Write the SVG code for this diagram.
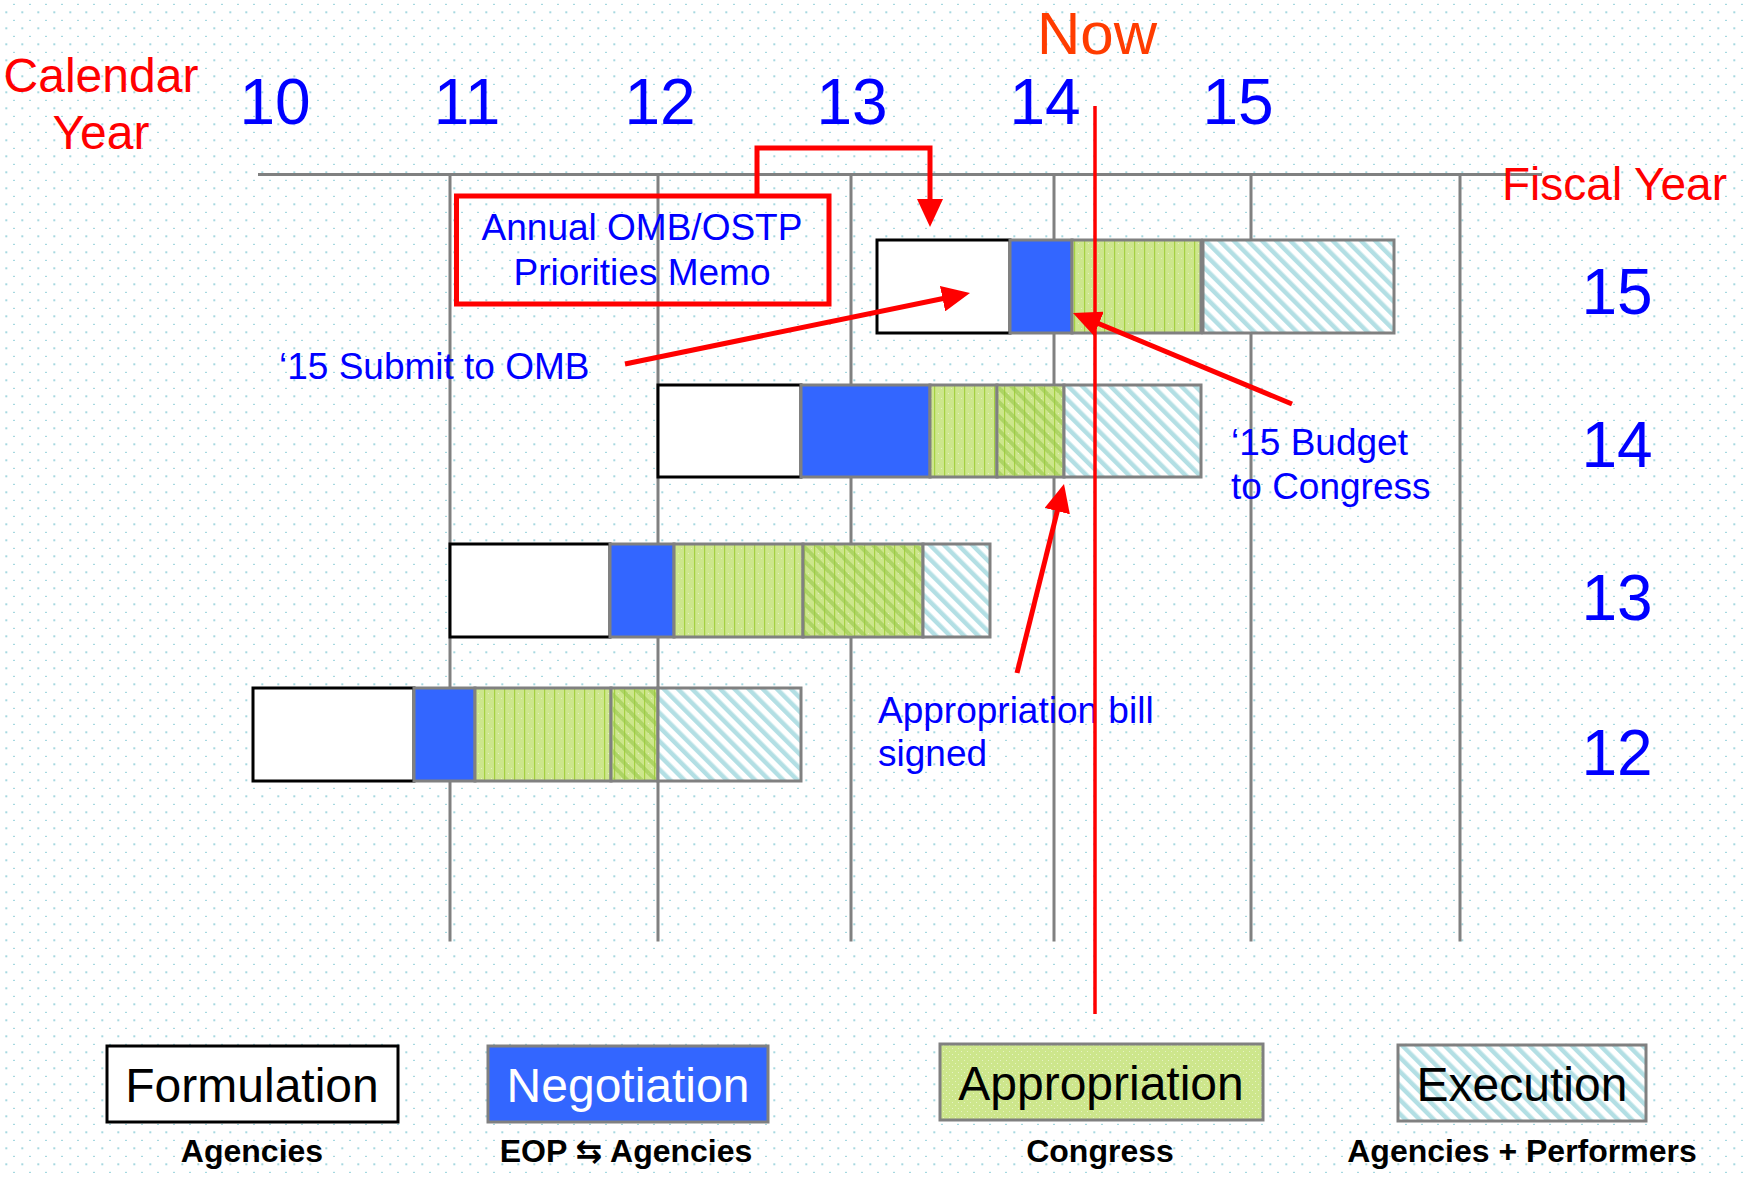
<svg xmlns="http://www.w3.org/2000/svg" width="1743" height="1177" viewBox="0 0 1743 1177">
<defs>
<style>
text{font-family:"Liberation Sans",Arial,"DejaVu Sans",sans-serif}
.red{fill:#ff0000}
.blue{fill:#0000ff}
.yr{font-size:64px;fill:#0000ff;text-anchor:middle}
.note{font-size:37px;fill:#0000ff}
.leg{font-size:48px;text-anchor:middle;fill:#000}
.who{font-size:32px;font-weight:bold;text-anchor:middle;fill:#000}
.grid{stroke:#808080;stroke-width:3;fill:none}
.form{fill:#fff;stroke:#000;stroke-width:3}
.neg{fill:#3366ff;stroke:#808080;stroke-width:3}
.app{fill:url(#greenV);stroke:#808080;stroke-width:3}
.appx{fill:url(#diagG);stroke:none}
.exe{fill:url(#exec);stroke:#808080;stroke-width:3}
.arrow{stroke:#ff0000;stroke-width:5;fill:none;marker-end:url(#ah)}
</style>
<pattern id="dots" width="16" height="16" patternUnits="userSpaceOnUse">
<rect x="5.3" y="11.3" width="2" height="2" fill="#a6d8e0"/>
<rect x="13" y="3.8" width="2" height="1.2" fill="#a6d8e0"/>
</pattern>
<pattern id="greenV" width="10" height="10" patternUnits="userSpaceOnUse">
<rect width="10" height="10" fill="#cde68c"/>
<rect x="4" y="0" width="1.2" height="10" fill="#a4d042"/>
<rect x="8" y="3" width="1" height="1" fill="#e4f2c0"/>
<rect x="1" y="8" width="1" height="1" fill="#e4f2c0"/>
</pattern>
<pattern id="greenD" width="6" height="6" patternUnits="userSpaceOnUse">
<rect width="6" height="6" fill="#cde68c"/>
<rect x="1" y="1" width="1" height="1" fill="#e6f3c4"/>
<rect x="4" y="4" width="1" height="1" fill="#e6f3c4"/>
</pattern>
<pattern id="diagG" width="10" height="10" patternUnits="userSpaceOnUse" patternTransform="rotate(-45)">
<rect x="0" y="0" width="4" height="10" fill="#98c84a" fill-opacity="0.6"/>
</pattern>
<pattern id="exec" width="10" height="10" patternUnits="userSpaceOnUse" patternTransform="rotate(-45)">
<rect width="10" height="10" fill="#ffffff"/>
<rect x="0" y="0" width="4.5" height="10" fill="#b3dfe4"/>
</pattern>
<marker id="ah" markerWidth="28" markerHeight="26" refX="18" refY="13" orient="auto" markerUnits="userSpaceOnUse">
<path d="M0,0 L28,13 L0,26 z" fill="#ff0000"/>
</marker>
</defs>

<rect width="1743" height="1177" fill="#ffffff"/>
<rect width="1743" height="1177" fill="url(#dots)"/>

<g id="axes">
<line class="grid" x1="258" y1="174.5" x2="1542" y2="174.5"/>
<line class="grid" x1="450" y1="174.5" x2="450" y2="941.5"/>
<line class="grid" x1="658" y1="174.5" x2="658" y2="941.5"/>
<line class="grid" x1="851" y1="174.5" x2="851" y2="941.5"/>
<line class="grid" x1="1054" y1="174.5" x2="1054" y2="941.5"/>
<line class="grid" x1="1251" y1="174.5" x2="1251" y2="941.5"/>
<line class="grid" x1="1460" y1="174.5" x2="1460" y2="941.5"/>
</g>

<g id="calendar-year-label">
<text class="red" x="101" y="92" font-size="48" text-anchor="middle">Calendar</text>
<text class="red" x="101" y="149" font-size="48" text-anchor="middle">Year</text>
</g>
<g id="calendar-years">
<text class="yr" x="275" y="124">10</text>
<text class="yr" x="467" y="124">11</text>
<text class="yr" x="660" y="124">12</text>
<text class="yr" x="852" y="124">13</text>
<text class="yr" x="1045" y="124">14</text>
<text class="yr" x="1238" y="124">15</text>
</g>
<g id="now-label">
<text x="1037" y="54" font-size="60" fill="#ff3c00">Now</text>
</g>
<g id="fiscal-year-label">
<text class="red" x="1502" y="200" font-size="46">Fiscal Year</text>
</g>
<g id="fiscal-years">
<text class="yr" x="1617" y="314">15</text>
<text class="yr" x="1617" y="467">14</text>
<text class="yr" x="1617" y="620">13</text>
<text class="yr" x="1617" y="775">12</text>
</g>

<g id="fy15-bar">
<rect class="form" x="877" y="240" width="133" height="93"/>
<rect class="neg" x="1010" y="240" width="62" height="93"/>
<rect class="app" x="1072" y="240" width="129" height="93"/>
<rect class="exe" x="1203" y="240" width="191" height="93"/>
</g>
<g id="fy14-bar">
<rect class="form" x="658" y="385" width="143" height="92"/>
<rect class="neg" x="801" y="385" width="129" height="92"/>
<rect class="app" x="930" y="385" width="67" height="92"/>
<rect class="app" x="997" y="385" width="67" height="92"/>
<rect class="appx" x="998.5" y="386.5" width="64" height="89"/>
<rect class="exe" x="1064" y="385" width="137" height="92"/>
</g>
<g id="fy13-bar">
<rect class="form" x="450" y="544" width="160" height="93"/>
<rect class="neg" x="610" y="544" width="64" height="93"/>
<rect class="app" x="674" y="544" width="129" height="93"/>
<rect class="app" x="803" y="544" width="120" height="93"/>
<rect class="appx" x="804.5" y="545.5" width="117" height="90"/>
<rect class="exe" x="923" y="544" width="67" height="93"/>
</g>
<g id="fy12-bar">
<rect class="form" x="253" y="688" width="161" height="93"/>
<rect class="neg" x="414" y="688" width="61" height="93"/>
<rect class="app" x="475" y="688" width="136" height="93"/>
<rect class="app" x="611" y="688" width="47" height="93"/>
<rect class="appx" x="612.5" y="689.5" width="44" height="90"/>
<rect class="exe" x="658" y="688" width="143" height="93"/>
</g>

<g id="memo">
<rect x="456.5" y="196" width="372.5" height="108" fill="none" stroke="#ff0000" stroke-width="5"/>
<text class="note" x="642" y="240" text-anchor="middle">Annual OMB/OSTP</text>
<text class="note" x="642" y="285" text-anchor="middle">Priorities Memo</text>
</g>
<g id="submit-note">
<text class="note" x="279" y="379" font-size="36">‘15 Submit to OMB</text>
</g>
<g id="budget-note">
<text class="note" x="1231" y="455">‘15 Budget</text>
<text class="note" x="1231" y="499">to Congress</text>
</g>
<g id="approp-note">
<text class="note" x="878" y="723">Appropriation bill</text>
<text class="note" x="878" y="766">signed</text>
</g>

<g id="connectors">
<polyline class="arrow" stroke-width="4" points="757,196 757,148 930,148 930,217"/>
<line class="arrow" x1="625" y1="364" x2="960.2" y2="295"/>
<line class="arrow" x1="1292" y1="404" x2="1082.2" y2="316.8"/>
<line class="arrow" x1="1017" y1="673" x2="1061.6" y2="493.7"/>
</g>

<g id="now-line">
<line x1="1095" y1="106" x2="1095" y2="1014" stroke="#ff0000" stroke-width="3.5"/>
</g>

<g id="legend-formulation">
<rect class="form" x="107" y="1046" width="291" height="76"/>
<text class="leg" x="252" y="1102">Formulation</text>
<text class="who" x="252" y="1162">Agencies</text>
</g>
<g id="legend-negotiation">
<rect class="neg" x="488" y="1046" width="280" height="76"/>
<text class="leg" x="628" y="1102" style="fill:#ffffff">Negotiation</text>
<text class="who" x="626" y="1162">EOP ⇆ Agencies</text>
</g>
<g id="legend-appropriation">
<rect x="940" y="1044" width="323" height="76" fill="url(#greenD)" stroke="#808080" stroke-width="3"/>
<text class="leg" x="1101" y="1100">Appropriation</text>
<text class="who" x="1100" y="1162">Congress</text>
</g>
<g id="legend-execution">
<rect class="exe" x="1398" y="1045" width="248" height="76"/>
<text class="leg" x="1522" y="1101">Execution</text>
<text class="who" x="1522" y="1162">Agencies + Performers</text>
</g>
</svg>
